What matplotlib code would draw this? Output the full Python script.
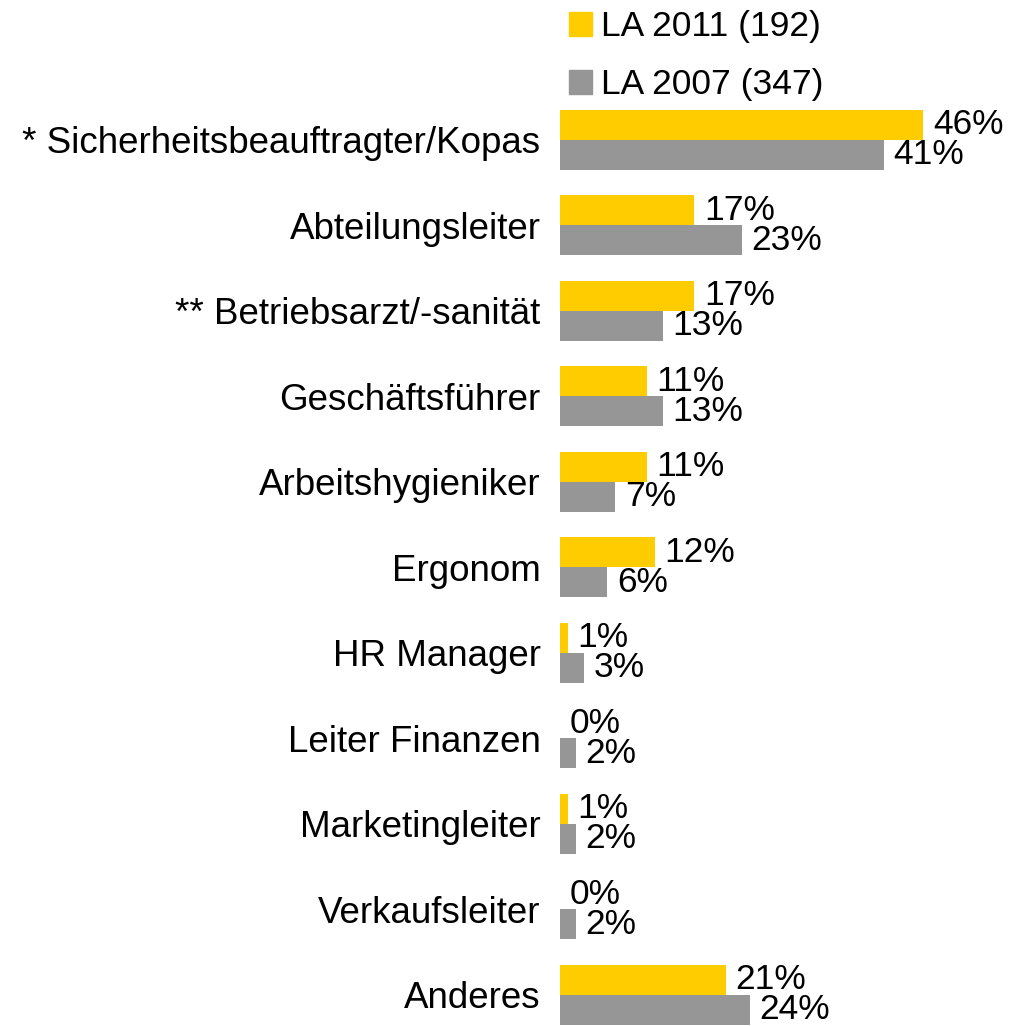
import matplotlib.pyplot as plt
from matplotlib.patches import Patch

plt.rcParams['font.family'] = ['Liberation Sans', 'DejaVu Sans']

categories = ['* Sicherheitsbeauftragter/Kopas', 'Abteilungsleiter', '** Betriebsarzt/-sanität',
              'Geschäftsführer', 'Arbeitshygieniker', 'Ergonom', 'HR Manager',
              'Leiter Finanzen', 'Marketingleiter', 'Verkaufsleiter', 'Anderes']
la_2011 = [46, 17, 17, 11, 11, 12, 1, 0, 1, 0, 21]
la_2007 = [41, 23, 13, 13, 7, 6, 3, 2, 2, 2, 24]
series_labels = ['LA 2011 (192)', 'LA 2007 (347)']
colors = ['#FFCC00', '#969696']

fig = plt.figure(figsize=(10.1, 10.26), dpi=100)
ax = fig.add_axes([560 / 1010, 0, 450 / 1010, (1026 - 97) / 1026])

h = 0.35
pos = list(range(len(categories)))
b1 = ax.barh([p - h / 2 for p in pos], la_2011, height=h, color=colors[0])
b2 = ax.barh([p + h / 2 for p in pos], la_2007, height=h, color=colors[1])

fs = 25.5
for bars, vals in ((b1, la_2011), (b2, la_2007)):
    for bar, v in zip(bars, vals):
        ax.annotate(f'{v}%', (bar.get_width(), bar.get_y() + bar.get_height() / 2),
                    xytext=(7, 0), textcoords='offset points', va='center', ha='left', fontsize=fs)

ax.set_xlim(0, 450 / 7.9)
ax.set_ylim(-0.5 + (1026 - 97) / 85.5, -0.5)
ax.set_yticks(pos)
ax.set_yticklabels(categories, fontsize=26.5)
ax.tick_params(axis='y', length=0, pad=14)
ax.set_xticks([])
for s in ax.spines.values():
    s.set_visible(False)

handles = [Patch(color=c) for c in colors]
fig.legend(handles, series_labels, loc='upper left', bbox_to_anchor=(537 / 1010, 1.021),
           frameon=False, fontsize=fs, handlelength=0.65, handleheight=0.65,
           handletextpad=0.25, labelspacing=0.7)

fig.savefig('out.png', dpi=100)
